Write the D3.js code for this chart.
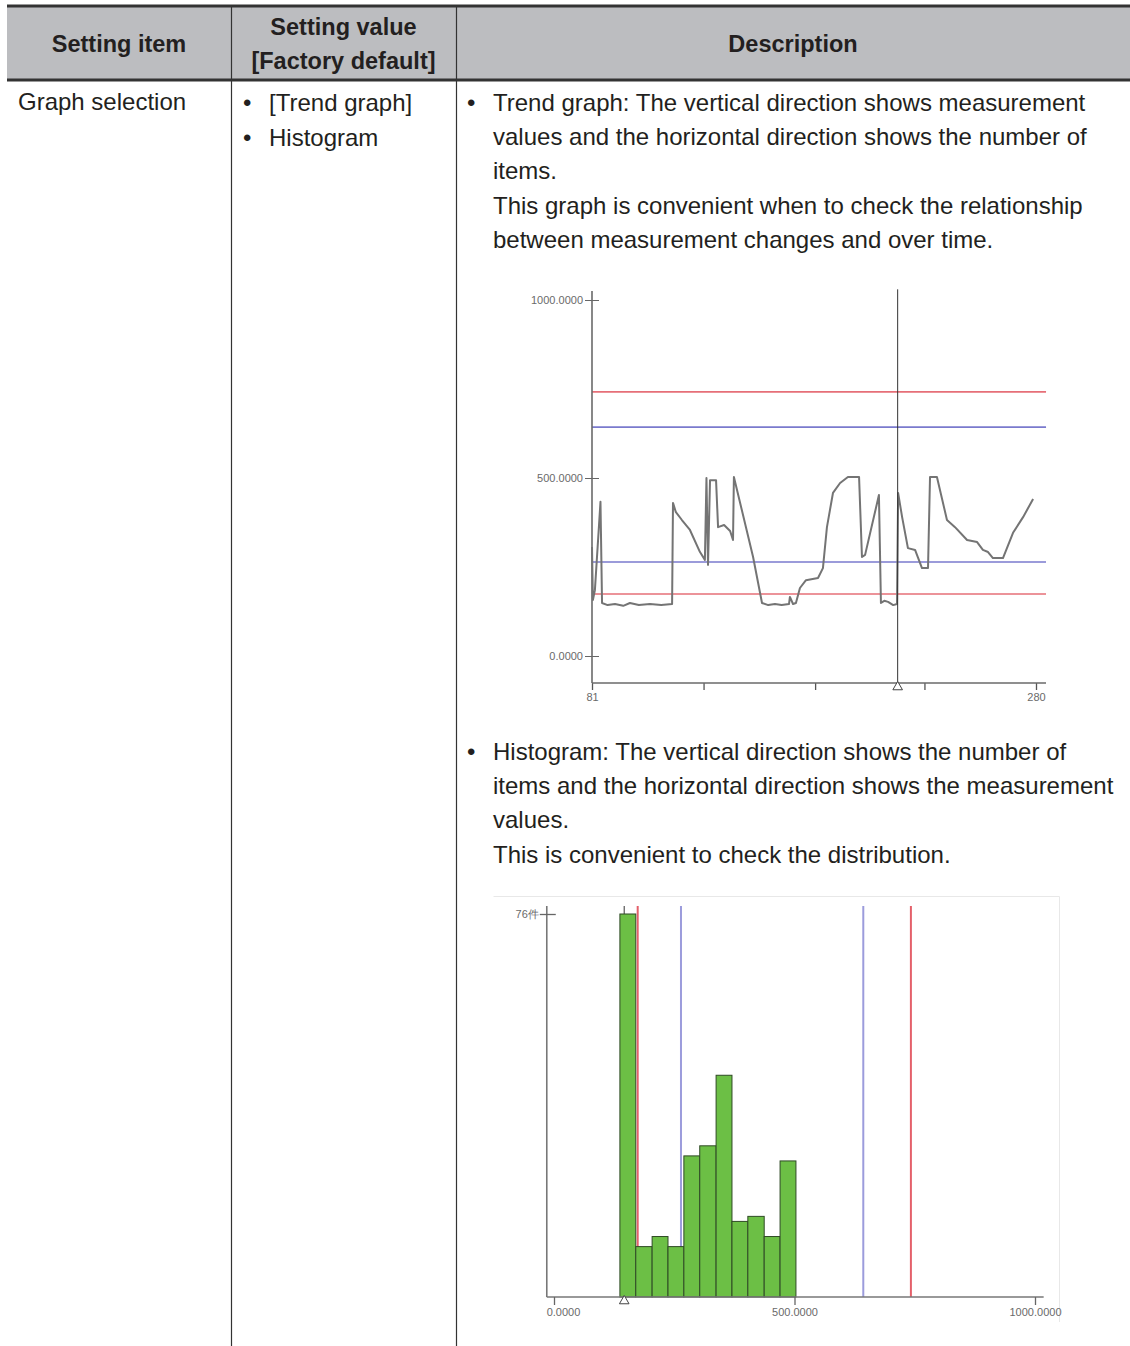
<!DOCTYPE html>
<html>
<head>
<meta charset="utf-8">
<script src="https://cdn.jsdelivr.net/npm/d3@7"></script>
<style>
  body { margin: 0; background: #fff; }
  svg { display: block; font-family: "Liberation Sans", Arial, sans-serif; }
  .hd { font-weight: bold; font-size: 23.5px; fill: #231f20; }
  .tx { font-size: 24px; fill: #231f20; }
  .sm { font-size: 11px; fill: #6a6a6a; }
</style>
</head>
<body>
<svg id="page" width="1130" height="1346"></svg>
<script>
// ---- data ----
var headers = ["Setting item", ["Setting value", "[Factory default]"], "Description"];
var settingValues = ["[Trend graph]", "Histogram"];
var descTrend = [
  "Trend graph: The vertical direction shows measurement",
  "values and the horizontal direction shows the number of",
  "items.",
  "This graph is convenient when to check the relationship",
  "between measurement changes and over time."
];
var descHist = [
  "Histogram: The vertical direction shows the number of",
  "items and the horizontal direction shows the measurement",
  "values.",
  "This is convenient to check the distribution."
];

// trend graph: item number vs measurement value
var trendIndex = [81, 81.4, 82.3, 84.8, 85.5, 88, 91.3, 95, 98, 102, 107, 112, 116.9,
  117.3, 118.6, 121.3, 124.9, 129.4, 131.6, 132.3, 133, 133.9, 136.6, 137.5, 140.2, 142.9, 144.2,
  144.6, 153.2, 157.2, 160, 163, 166, 169.3, 169.7, 171.1, 172.4, 174.2, 176.9, 182.3, 184.5,
  186.3, 189, 192.2, 195.7, 200.7, 202, 203.4, 209.6, 210.5, 212, 213.7, 216, 217.7,
  218.2, 220, 222.6, 225.8, 228.9, 231.6, 232.5, 235.6, 240.1, 243.7, 249.1, 253.6, 256.2,
  258.5, 260.7, 265.2, 269.7, 274.2, 278.7];
var trendValue = [306, 157, 185, 433, 149, 143, 146, 141, 149, 143, 146, 143, 146,
  430, 404, 382, 354, 292, 270, 500, 256, 494, 494, 362, 368, 351, 326,
  503, 278, 149, 143, 146, 143, 146, 166, 146, 149, 191, 213, 219, 247,
  362, 458, 486, 503, 503, 278, 284, 452, 149, 155, 152, 143, 146,
  458, 390, 303, 298, 247, 247, 503, 503, 382, 362, 326, 320, 298,
  292, 275, 275, 346, 390, 441];
var trendTicks = [81, 131, 181, 230, 280];
var trendTickLabels = ["81", "", "", "", "280"];
var valueTicks = [0, 500, 1000];
var valueTickLabels = ["0.0000", "500.0000", "1000.0000"];
var cursorIndex = 218;
var cursorValue = 146;

// judgement limits (same in both graphs)
var upperLimits = [742, 643];   // red, blue
var lowerLimits = [264, 174];   // blue, red
var limitColors = { red: "#e4606a", blue: "#6c6cc8" };

// histogram
var binEdges = [137, 170, 204, 237, 270, 303, 337, 370, 403, 437, 470, 503];
var binCounts = [76, 10, 12, 10, 28, 30, 44, 15, 16, 12, 27];
var histMax = 76;
var histMaxLabel = "76件";

var svg = d3.select("#page");

// ---- table ----
var colX = [7, 231, 456, 1130];
svg.append("rect").attr("x", colX[0]).attr("y", 6).attr("width", colX[3] - colX[0]).attr("height", 74)
  .attr("fill", "#bcbdc0");
svg.append("line").attr("x1", colX[0]).attr("x2", colX[3]).attr("y1", 6).attr("y2", 6)
  .attr("stroke", "#333").attr("stroke-width", 3);
svg.append("line").attr("x1", colX[0]).attr("x2", colX[3]).attr("y1", 80).attr("y2", 80)
  .attr("stroke", "#333").attr("stroke-width", 3);
[colX[1], colX[2]].forEach(function(x) {
  svg.append("line").attr("x1", x + 0.5).attr("x2", x + 0.5).attr("y1", 7).attr("y2", 1346)
    .attr("stroke", "#333").attr("stroke-width", 1.2);
});

headers.forEach(function(h, i) {
  var cx = (colX[i] + colX[i + 1]) / 2;
  var lines = Array.isArray(h) ? h : [h];
  var y0 = lines.length == 1 ? 52 : 35;
  lines.forEach(function(t, j) {
    svg.append("text").attr("class", "hd").attr("x", cx).attr("y", y0 + j * 34)
      .attr("text-anchor", "middle").text(t);
  });
});

svg.append("text").attr("class", "tx").attr("x", 18).attr("y", 110).text("Graph selection");
settingValues.forEach(function(t, i) {
  svg.append("text").attr("class", "tx").attr("x", 243).attr("y", 111 + i * 35).text("•");
  svg.append("text").attr("class", "tx").attr("x", 269).attr("y", 111 + i * 35).text(t);
});

function para(lines, y0) {
  svg.append("text").attr("class", "tx").attr("x", 467).attr("y", y0).text("•");
  lines.forEach(function(t, i) {
    svg.append("text").attr("class", "tx").attr("x", 493).attr("y", y0 + i * 34.2).text(t);
  });
}
para(descTrend, 111);
para(descHist, 760);

// ---- trend graph ----
var tx = d3.scaleLinear().domain([81, 280]).range([592, 1036]);
var ty = d3.scaleLinear().domain([0, 1000]).range([656, 300]);
var tg = svg.append("g");
var axisY = 683;

// limit lines
upperLimits.concat(lowerLimits).forEach(function(v, i) {
  var c = (i == 0 || i == 3) ? limitColors.red : limitColors.blue;
  tg.append("line").attr("x1", tx(81)).attr("x2", tx(284.5)).attr("y1", ty(v)).attr("y2", ty(v))
    .attr("stroke", c).attr("stroke-width", 1.6).attr("opacity", 0.9);
});

// value axis
var yAxis = d3.axisLeft(ty).tickValues(valueTicks).tickSize(7).tickPadding(2)
  .tickFormat(function(d, i) { return valueTickLabels[i]; });
var yg = tg.append("g").attr("transform", "translate(" + tx(81) + ",0)").call(yAxis);
yg.select(".domain").remove();
yg.selectAll(".tick line").attr("x2", -7).attr("x1", 7).attr("stroke", "#666");
yg.selectAll(".tick text").attr("class", "sm").attr("font-size", null).attr("font-family", null);
tg.append("line").attr("x1", tx(81)).attr("x2", tx(81)).attr("y1", ty(1025)).attr("y2", axisY)
  .attr("stroke", "#6a6a6a").attr("stroke-width", 1.6);

// item axis
var xAxis = d3.axisBottom(tx).tickValues(trendTicks).tickSize(7).tickPadding(3)
  .tickFormat(function(d, i) { return trendTickLabels[i]; });
var xg = tg.append("g").attr("transform", "translate(0," + axisY + ")").call(xAxis);
xg.select(".domain").remove();
xg.selectAll(".tick line").attr("stroke", "#555").attr("stroke-width", 1.3);
xg.selectAll(".tick text").attr("class", "sm").attr("font-size", null).attr("font-family", null);
tg.append("line").attr("x1", tx(81)).attr("x2", tx(284.5)).attr("y1", axisY).attr("y2", axisY)
  .attr("stroke", "#6a6a6a").attr("stroke-width", 1.6);

// trend line
var pts = trendIndex.map(function(d, i) { return [d, trendValue[i]]; });
tg.append("path").datum(pts)
  .attr("d", d3.line().x(function(d) { return tx(d[0]); }).y(function(d) { return ty(d[1]); }))
  .attr("fill", "none").attr("stroke", "#747474").attr("stroke-width", 2)
  .attr("stroke-linejoin", "round");

// cursor
tg.append("line").attr("x1", tx(cursorIndex)).attr("x2", tx(cursorIndex))
  .attr("y1", ty(1030)).attr("y2", axisY + 6).attr("stroke", "#333").attr("stroke-width", 1);
tg.append("path").attr("d", d3.symbol(d3.symbolTriangle, 40)())
  .attr("transform", "translate(" + tx(cursorIndex) + "," + (axisY + 4) + ")")
  .attr("fill", "#fff").attr("stroke", "#444").attr("stroke-width", 1);

// ---- histogram ----
var hx = d3.scaleLinear().domain([0, 1000]).range([554, 1035]);
var hy = d3.scaleLinear().domain([0, histMax]).range([1297, 914]);
var hg = svg.append("g");

// faint frame (top and right edges only visible)
hg.append("path").attr("d", "M493.5,896.5H1059.5V1322")
  .attr("fill", "none").attr("stroke", "#e8e8e8");

// cursor behind bars
hg.append("line").attr("x1", hx(cursorValue)).attr("x2", hx(cursorValue))
  .attr("y1", hy(histMax + 1.6)).attr("y2", hy(0)).attr("stroke", "#555").attr("stroke-width", 1.2);

// limit lines
var hl = [
  { v: lowerLimits[1], c: limitColors.red },
  { v: lowerLimits[0], c: "#9c9cdc" },
  { v: upperLimits[1], c: "#9c9cdc" },
  { v: upperLimits[0], c: limitColors.red }
];
hg.selectAll(".lim").data(hl).enter().append("line")
  .attr("x1", function(d) { return hx(d.v); }).attr("x2", function(d) { return hx(d.v); })
  .attr("y1", hy(histMax + 1.6)).attr("y2", hy(0))
  .attr("stroke", function(d) { return d.c; }).attr("stroke-width", 2);

// bars
hg.selectAll(".bar").data(binCounts).enter().append("rect")
  .attr("x", function(d, i) { return hx(binEdges[i]); })
  .attr("width", function(d, i) { return hx(binEdges[i + 1]) - hx(binEdges[i]); })
  .attr("y", function(d) { return hy(d); })
  .attr("height", function(d) { return hy(0) - hy(d); })
  .attr("fill", "#6cbf45").attr("stroke", "#2f4a25").attr("stroke-width", 1);

// axes
hg.append("line").attr("x1", hx(-15)).attr("x2", hx(-15)).attr("y1", hy(histMax + 1.6)).attr("y2", hy(0))
  .attr("stroke", "#777").attr("stroke-width", 1.6);
hg.append("line").attr("x1", hx(-15)).attr("x2", hx(1018)).attr("y1", hy(0)).attr("y2", hy(0))
  .attr("stroke", "#777").attr("stroke-width", 1.6);

var hxAxis = d3.axisBottom(hx).tickValues(valueTicks).tickSize(8).tickPadding(3)
  .tickFormat(function(d, i) { return valueTickLabels[i]; });
var hxg = hg.append("g").attr("transform", "translate(0," + hy(0) + ")").call(hxAxis);
hxg.select(".domain").remove();
hxg.selectAll(".tick line").attr("stroke", "#666").attr("stroke-width", 1.3);
hxg.selectAll(".tick text").attr("class", "sm").attr("font-size", null).attr("font-family", null)
  .attr("dx", function(d) { return d == 0 ? 9 : 0; });

var hyAxis = d3.axisLeft(hy).tickValues([histMax]).tickSize(7).tickPadding(1)
  .tickFormat(function() { return histMaxLabel; });
var hyg = hg.append("g").attr("transform", "translate(" + hx(-15) + ",0)").call(hyAxis);
hyg.select(".domain").remove();
hyg.selectAll(".tick line").attr("x1", 9).attr("stroke", "#666").attr("stroke-width", 1.3);
hyg.selectAll(".tick text").attr("class", "sm").attr("font-size", null).attr("font-family", null);

hg.append("path").attr("d", d3.symbol(d3.symbolTriangle, 40)())
  .attr("transform", "translate(" + hx(cursorValue) + "," + (hy(0) + 4) + ")")
  .attr("fill", "#fff").attr("stroke", "#444").attr("stroke-width", 1);
</script>
</body>
</html>
